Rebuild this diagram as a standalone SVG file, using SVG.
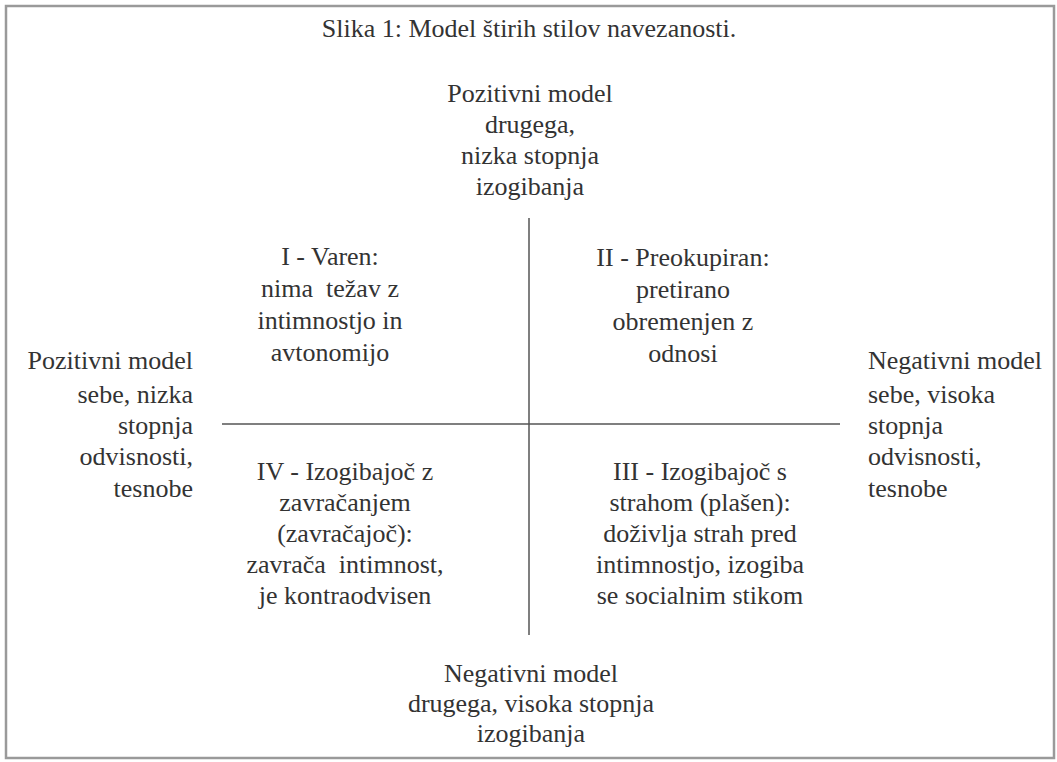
<svg xmlns="http://www.w3.org/2000/svg" width="1057" height="762" viewBox="0 0 1057 762" font-family="'Liberation Serif', 'Times New Roman', serif" font-size="26">
<style>
text{font-family:"Liberation Serif","Times New Roman",serif;font-size:26px;fill:#333;}
.c{text-anchor:middle;}
.r{text-anchor:end;}
.l{text-anchor:start;}
.ax{stroke:#555;stroke-width:1.5;fill:none;}
</style>
<rect x="0" y="0" width="1057" height="762" fill="#fff"/>
<rect id="frame" x="6" y="6" width="1048" height="752" fill="none" stroke="#9a9a9a" stroke-width="2.5"/>
<g id="title"><text class="c" x="529" y="37">Slika 1: Model štirih stilov navezanosti.</text></g>
<g id="connectors">
<line class="ax" x1="529" y1="218" x2="529" y2="635"/>
<line class="ax" x1="222" y1="424" x2="840" y2="424"/>
</g>
<g id="top"><text class="c" x="530" y="102">Pozitivni model</text><text class="c" x="530" y="133">drugega,</text><text class="c" x="530" y="164">nizka stopnja</text><text class="c" x="530" y="195">izogibanja</text></g>
<g id="bottom"><text class="c" x="531" y="682">Negativni model</text><text class="c" x="531" y="712">drugega, visoka stopnja</text><text class="c" x="531" y="742">izogibanja</text></g>
<g id="left"><text class="r" x="193" y="369">Pozitivni model</text><text class="r" x="193" y="403">sebe, nizka</text><text class="r" x="193" y="434">stopnja</text><text class="r" x="193" y="465">odvisnosti,</text><text class="r" x="193" y="497">tesnobe</text></g>
<g id="right"><text class="l" x="868" y="369">Negativni model</text><text class="l" x="868" y="403">sebe, visoka</text><text class="l" x="868" y="434">stopnja</text><text class="l" x="868" y="465">odvisnosti,</text><text class="l" x="868" y="497">tesnobe</text></g>
<g id="q1"><text class="c" x="330" y="265">I - Varen:</text><text class="c" x="330" y="297" xml:space="preserve">nima  težav z</text><text class="c" x="330" y="329">intimnostjo in</text><text class="c" x="330" y="361">avtonomijo</text></g>
<g id="q2"><text class="c" x="683" y="266">II - Preokupiran:</text><text class="c" x="683" y="298">pretirano</text><text class="c" x="683" y="330">obremenjen z</text><text class="c" x="683" y="362">odnosi</text></g>
<g id="q4"><text class="c" x="345" y="480">IV - Izogibajoč z</text><text class="c" x="345" y="511">zavračanjem</text><text class="c" x="345" y="542">(zavračajoč):</text><text class="c" x="345" y="573" xml:space="preserve">zavrača  intimnost,</text><text class="c" x="345" y="604">je kontraodvisen</text></g>
<g id="q3"><text class="c" x="700" y="480">III - Izogibajoč s</text><text class="c" x="700" y="511">strahom (plašen):</text><text class="c" x="700" y="542">doživlja strah pred</text><text class="c" x="700" y="573">intimnostjo, izogiba</text><text class="c" x="700" y="604">se socialnim stikom</text></g>
</svg>
